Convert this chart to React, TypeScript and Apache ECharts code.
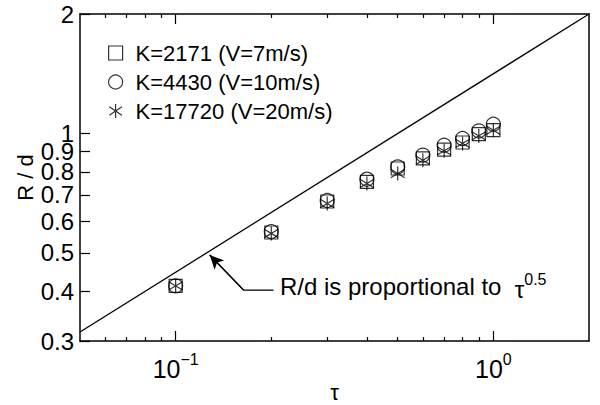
import React, { useEffect, useRef } from "react";
import * as echarts from "echarts";

// ---- data ----
const tau = [0.1, 0.2, 0.3, 0.4, 0.5, 0.6, 0.7, 0.8, 0.9, 1.0];
const rdK2171 = [0.413, 0.563, 0.674, 0.755, 0.816, 0.865, 0.911, 0.949, 0.996, 1.02];
const rdK4430 = [0.413, 0.566, 0.678, 0.767, 0.824, 0.882, 0.934, 0.971, 1.015, 1.055];
const rdK17720 = [0.413, 0.56, 0.666, 0.748, 0.793, 0.856, 0.904, 0.944, 0.986, 1.019];
const seriesNames = ["K=2171 (V=7m/s)", "K=4430 (V=10m/s)", "K=17720 (V=20m/s)"];
const refLineTau = [0.05, 2];
const refLineRd = [0.316, 2];
const arrowTau = [0.2033, 0.1637, 0.128];
const arrowRd = [0.403, 0.403, 0.494];
const yTickValues = [0.3, 0.4, 0.5, 0.6, 0.7, 0.8, 0.9, 1, 2];
const xMajorTicks = [0.1, 1];
const xMinorTicks = [0.06, 0.07, 0.08, 0.09, 0.2, 0.3, 0.4, 0.5, 0.6, 0.7, 0.8, 0.9];
const annotationText = "R/d is proportional to";

const FONT = "Liberation Sans, Arial, Helvetica, sans-serif";
const STAR = "path://M10,0L10,20M1,4L19,16M1,16L19,4";

export default function App() {
  const ref = useRef<HTMLDivElement>(null);
  useEffect(() => {
    const chart = echarts.init(ref.current!, null, { renderer: "svg" });
    const pts = (ys: number[]) => tau.map((t, i) => [t, ys[i]]);
    const markerStyle = { color: "rgba(0,0,0,0)", borderColor: "#000", borderWidth: 1.2 };
    const axisLine = { show: true, lineStyle: { color: "#000", width: 1.5 } };
    const xBase = { type: "log", logBase: 10, min: 0.05, max: 2, splitLine: { show: false }, minorTick: { show: false }, minorSplitLine: { show: false } };
    const xLabelRich = {
      b: { fontFamily: FONT, fontSize: 25, color: "#000", lineHeight: 30, verticalAlign: "bottom" },
      s: { fontFamily: FONT, fontSize: 16, color: "#000", lineHeight: 16, verticalAlign: "top" },
    };
    const expLabel = (v: number) => {
      const e = Math.round(Math.log10(v));
      return "{b|10}{s|" + (e < 0 ? "−" + Math.abs(e) : String(e)) + "}";
    };
    const option: any = {
      animation: false,
      backgroundColor: "#fff",
      grid: { left: 80, right: 11, top: 14, bottom: 64, outerBoundsMode: "none", containLabel: false },
      xAxis: [
        {
          ...xBase, position: "bottom",
          name: "τ", nameLocation: "middle", nameGap: 41, nameMoveOverlap: false,
          nameTextStyle: { fontFamily: FONT, fontSize: 22, color: "#000", lineHeight: 20 },
          axisLine,
          axisTick: { show: true, inside: true, length: 10, customValues: xMajorTicks, lineStyle: { color: "#000", width: 1.2 } },
          axisLabel: { show: true, customValues: xMajorTicks, margin: 10, formatter: expLabel, rich: xLabelRich },
        },
        {
          ...xBase, position: "bottom",
          axisLine: { show: false },
          axisTick: { show: true, inside: true, length: 4, customValues: xMinorTicks, lineStyle: { color: "#000", width: 1.2 } },
          axisLabel: { show: false },
        },
        {
          ...xBase, position: "top",
          axisLine,
          axisTick: { show: true, inside: true, length: 10, customValues: xMajorTicks, lineStyle: { color: "#000", width: 1.2 } },
          axisLabel: { show: false },
        },
        {
          ...xBase, position: "top",
          axisLine: { show: false },
          axisTick: { show: true, inside: true, length: 4, customValues: xMinorTicks, lineStyle: { color: "#000", width: 1.2 } },
          axisLabel: { show: false },
        },
      ],
      yAxis: [
        {
          type: "log", logBase: 10, min: 0.3, max: 2, position: "left",
          name: "R / d", nameLocation: "middle", nameGap: 44, nameRotate: 90, nameMoveOverlap: false,
          nameTextStyle: { fontFamily: FONT, fontSize: 22, color: "#000" },
          axisLine,
          splitLine: { show: false }, minorTick: { show: false }, minorSplitLine: { show: false },
          axisTick: { show: true, inside: true, length: 10, customValues: yTickValues, lineStyle: { color: "#000", width: 1.2 } },
          axisLabel: {
            show: true, customValues: yTickValues, margin: 6, interval: 0,
            fontFamily: FONT, fontSize: 24, color: "#000",
            formatter: (v: number) => String(v),
          },
        },
        {
          type: "log", logBase: 10, min: 0.3, max: 2, position: "right",
          axisLine, axisTick: { show: false }, axisLabel: { show: false },
          splitLine: { show: false }, minorTick: { show: false }, minorSplitLine: { show: false },
        },
      ],
      legend: {
        left: 103, top: 37, orient: "vertical",
        itemWidth: 14, itemHeight: 14, itemGap: 7,
        selectedMode: false,
        data: seriesNames,
        textStyle: { fontFamily: FONT, fontSize: 22, color: "#000", lineHeight: 22, padding: [0, 0, 0, 8] },
        itemStyle: markerStyle,
      },
      graphic: [
        {
          type: "text", left: 280, top: 271, silent: true,
          style: {
            text: annotationText + "  {t|τ}{s|0.5}",
            fontFamily: FONT, fontSize: 24, fill: "#000", lineHeight: 30, verticalAlign: "bottom",
            rich: {
              t: { fontFamily: FONT, fontSize: 24, fill: "#000", lineHeight: 30, verticalAlign: "bottom" },
              s: { fontFamily: FONT, fontSize: 16, fill: "#000", lineHeight: 16, verticalAlign: "top" },
            },
          },
        },
      ],
      series: [
        {
          name: "refLine", type: "line", data: refLineTau.map((t, i) => [t, refLineRd[i]]),
          symbol: "none", lineStyle: { color: "#000", width: 1.3 }, silent: true, z: 2,
        },
        {
          name: "arrow", type: "line", data: arrowTau.map((t, i) => [t, arrowRd[i]]),
          symbol: "none", lineStyle: { color: "#000", width: 1.3 }, silent: true, z: 2,
          markLine: {
            silent: true, symbol: ["none", "arrow"], symbolSize: [10, 14],
            label: { show: false },
            lineStyle: { color: "#000", width: 1.3, type: "solid" },
            data: [[{ coord: [arrowTau[1], arrowRd[1]] }, { coord: [arrowTau[2], arrowRd[2]] }]],
          },
        },
        { name: seriesNames[0], type: "scatter", symbol: "rect", symbolSize: 13, data: pts(rdK2171), itemStyle: markerStyle, z: 3 },
        { name: seriesNames[1], type: "scatter", symbol: "circle", symbolSize: 14, data: pts(rdK4430), itemStyle: markerStyle, z: 3 },
        { name: seriesNames[2], type: "scatter", symbol: STAR, symbolSize: 14, data: pts(rdK17720), itemStyle: markerStyle, z: 3 },
      ],
    };
    chart.setOption(option);
    return () => chart.dispose();
  }, []);
  return <div ref={ref} style={{ width: 600, height: 405, position: "absolute", left: 0, top: 0 }} />;
}
